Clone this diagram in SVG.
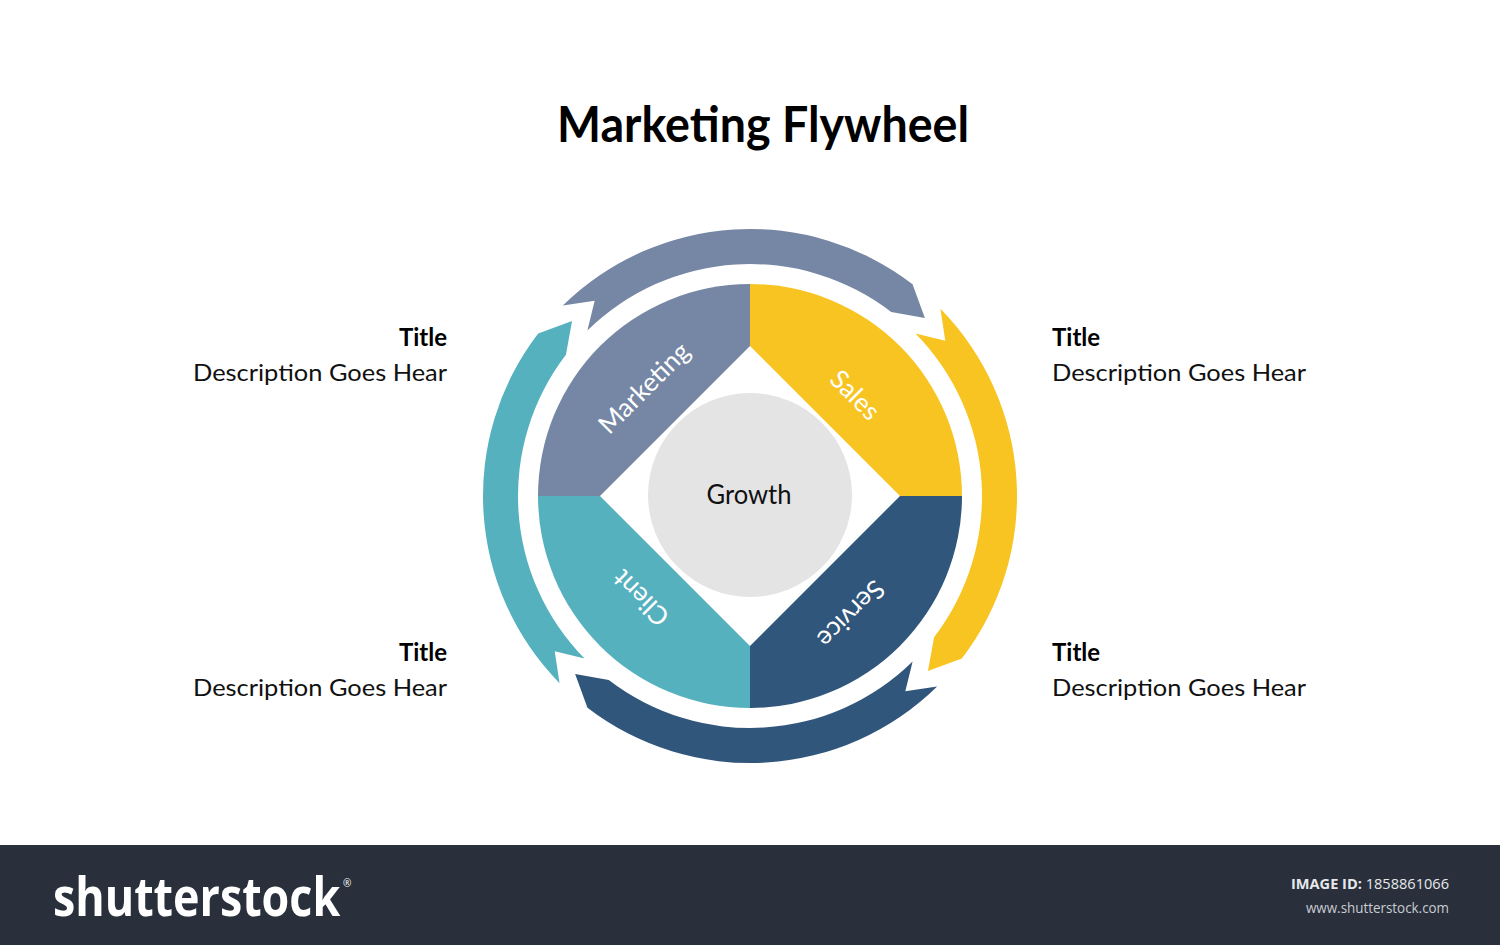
<svg xmlns="http://www.w3.org/2000/svg" xmlns:xlink="http://www.w3.org/1999/xlink" width="1500" height="945" viewBox="0 0 1500 945">
  <style>
    .title { font-family: Lato, "Open Sans", "Liberation Sans", sans-serif; font-weight: 700; font-size: 49px; fill: #000; }
    .seg { font-family: Lato, "Open Sans", "Liberation Sans", sans-serif; font-size: 26px; fill: #ffffff; text-anchor: middle; }
    .growth { font-family: Lato, "Open Sans", "Liberation Sans", sans-serif; font-size: 26px; fill: #111; text-anchor: middle; }
    .ttl { font-family: Lato, "Open Sans", "Liberation Sans", sans-serif; font-weight: 700; font-size: 24px; fill: #000; }
    .desc { font-family: Lato, "Open Sans", "Liberation Sans", sans-serif; font-size: 24px; fill: #111; }
    .logo { font-family: "Open Sans", Lato, "Liberation Sans", sans-serif; font-weight: 700; font-size: 54px; fill: #ffffff; }
    .foot1 { font-family: "Open Sans", "Liberation Sans", sans-serif; font-size: 15px; fill: #e6e8ec; text-anchor: end; }
    .foot2 { font-family: "Open Sans", "Liberation Sans", sans-serif; font-size: 14px; fill: #c9ccd2; text-anchor: end; }
  </style>
  <defs>
    <path id="arrowShape" d="M 562.86 305.56 A 267 267 0 0 1 912.54 284.18 L 924.88 318.04 L 891.23 311.94 A 232 232 0 0 0 587.39 330.53 L 594.68 300.74 Z"/>
  </defs>

  <rect x="0" y="0" width="1500" height="945" fill="#ffffff"/>

  <g id="title">
    <text class="title" x="763" y="142" text-anchor="middle" textLength="412" lengthAdjust="spacingAndGlyphs">Marketing Flywheel</text>
  </g>

  <g id="connectors">
    <use xlink:href="#arrowShape" href="#arrowShape" fill="#7587A4"/>
    <use xlink:href="#arrowShape" href="#arrowShape" fill="#F8C422" transform="rotate(90 750 496)"/>
    <use xlink:href="#arrowShape" href="#arrowShape" fill="#31567C" transform="rotate(180 750 496)"/>
    <use xlink:href="#arrowShape" href="#arrowShape" fill="#56B1BF" transform="rotate(270 750 496)"/>
  </g>

  <g id="sector-marketing">
    <path d="M 538 496 A 212 212 0 0 1 750 284 L 750 346 L 600 496 Z" fill="#7587A4"/>
    <text class="seg" transform="translate(644 388) rotate(-45)" x="0" y="9">Marketing</text>
  </g>
  <g id="sector-sales">
    <path d="M 750 284 A 212 212 0 0 1 962 496 L 900 496 L 750 346 Z" fill="#F8C422"/>
    <text class="seg" transform="translate(855 395) rotate(45)" x="0" y="9">Sales</text>
  </g>
  <g id="sector-service">
    <path d="M 962 496 A 212 212 0 0 1 750 708 L 750 646 L 900 496 Z" fill="#31567C"/>
    <text class="seg" transform="translate(851 614) rotate(135)" x="0" y="9">Service</text>
  </g>
  <g id="sector-client">
    <path d="M 750 708 A 212 212 0 0 1 538 496 L 600 496 L 750 646 Z" fill="#56B1BF"/>
    <text class="seg" transform="translate(641 598) rotate(225)" x="0" y="9">Client</text>
  </g>

  <g id="growth">
    <circle cx="750" cy="495" r="102" fill="#E4E4E4"/>
    <text class="growth" x="749" y="504" textLength="85" lengthAdjust="spacingAndGlyphs">Growth</text>
  </g>

  <g id="info-top-left">
    <text class="ttl" x="447" y="346" text-anchor="end">Title</text>
    <text class="desc" x="447" y="381" text-anchor="end" textLength="254" lengthAdjust="spacingAndGlyphs">Description Goes Hear</text>
  </g>
  <g id="info-bottom-left">
    <text class="ttl" x="447" y="661" text-anchor="end">Title</text>
    <text class="desc" x="447" y="696" text-anchor="end" textLength="254" lengthAdjust="spacingAndGlyphs">Description Goes Hear</text>
  </g>
  <g id="info-top-right">
    <text class="ttl" x="1052" y="346">Title</text>
    <text class="desc" x="1052" y="381" textLength="254" lengthAdjust="spacingAndGlyphs">Description Goes Hear</text>
  </g>
  <g id="info-bottom-right">
    <text class="ttl" x="1052" y="661">Title</text>
    <text class="desc" x="1052" y="696" textLength="254" lengthAdjust="spacingAndGlyphs">Description Goes Hear</text>
  </g>

  <g id="footer">
    <rect x="0" y="845" width="1500" height="100" fill="#29303B"/>
    <text class="logo" transform="translate(53 916) scale(0.83 1)" x="0" y="0">shutterstock</text>
    <text x="343" y="887" font-family="'Open Sans', sans-serif" font-size="10" fill="#ffffff">®</text>
    <text class="foot1" x="1449" y="889" textLength="158" lengthAdjust="spacingAndGlyphs"><tspan font-weight="700">IMAGE ID:</tspan> 1858861066</text>
    <text class="foot2" x="1449" y="913" textLength="143" lengthAdjust="spacingAndGlyphs">www.shutterstock.com</text>
  </g>
</svg>
